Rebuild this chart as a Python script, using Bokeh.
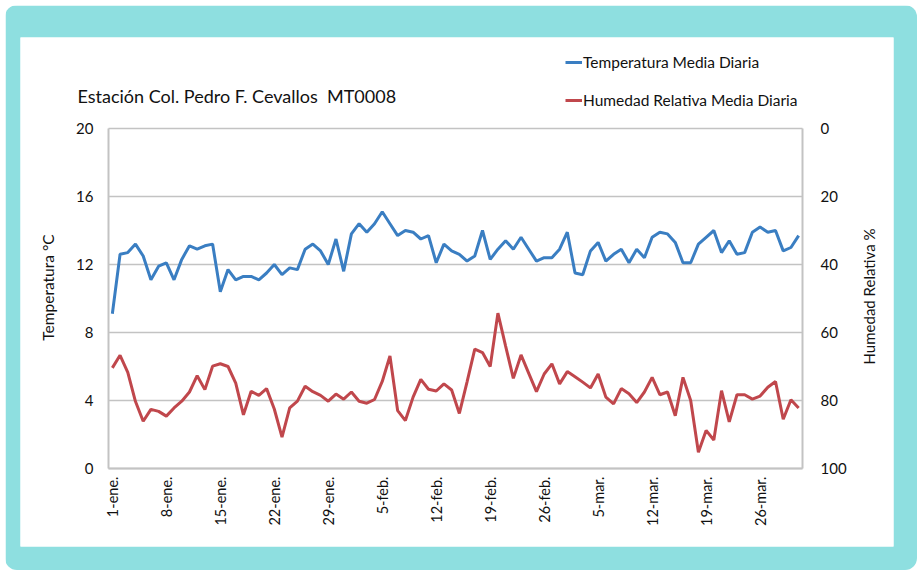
import math
from bokeh.plotting import figure
from bokeh.models import (Range1d, LinearAxis, FixedTicker, Legend, LegendItem, Label)
from bokeh.embed import file_html
from bokeh.resources import INLINE

# ---------------- data ----------------
temperatura = [
    9.1, 12.6, 12.7, 13.2, 12.5, 11.1, 11.9, 12.1, 11.1, 12.3,
    13.1, 12.9, 13.1, 13.2, 10.4, 11.7, 11.1, 11.3, 11.3, 11.1,
    11.5, 12.0, 11.4, 11.8, 11.7, 12.9, 13.2, 12.8, 12.0, 13.5,
    11.6, 13.8, 14.4, 13.9, 14.4, 15.1, 14.4, 13.7, 14.0, 13.9,
    13.5, 13.7, 12.1, 13.2, 12.8, 12.6, 12.2, 12.5, 14.0, 12.3,
    12.9, 13.4, 12.9, 13.6, 12.9, 12.2, 12.4, 12.4, 12.9, 13.9,
    11.5, 11.4, 12.8, 13.3, 12.2, 12.6, 12.9, 12.1, 12.9, 12.4,
    13.6, 13.9, 13.8, 13.3, 12.1, 12.1, 13.2, 13.6, 14.0, 12.7,
    13.4, 12.6, 12.7, 13.9, 14.2, 13.9, 14.0, 12.8, 13.0, 13.7,
]
humedad = [
    70.4, 66.7, 71.7, 80.3, 86.1, 82.6, 83.2, 84.6, 82.2, 80.2,
    77.5, 72.7, 76.8, 69.9, 69.2, 70.0, 74.9, 84.2, 77.3, 78.5,
    76.5, 82.5, 90.8, 82.2, 80.2, 75.8, 77.4, 78.5, 80.2, 78.1,
    79.6, 77.5, 80.2, 80.8, 79.7, 74.4, 66.9, 83.0, 85.9, 79.0,
    73.8, 76.7, 77.2, 75.1, 76.9, 83.8, 74.5, 64.9, 65.9, 70.0,
    54.3, 64.0, 73.5, 66.6, 72.0, 77.4, 72.2, 69.2, 75.1, 71.5,
    73.0, 74.6, 76.3, 72.2, 79.0, 81.0, 76.5, 78.0, 80.6, 77.5,
    73.2, 78.3, 77.5, 84.5, 73.2, 80.0, 95.2, 88.8, 91.6, 77.1,
    86.3, 78.3, 78.3, 79.6, 78.7, 76.1, 74.4, 85.5, 79.8, 82.2,
]
dias = list(range(len(temperatura)))
tick_dias = [0, 7, 14, 21, 28, 35, 42, 49, 56, 63, 70, 77, 84]
tick_fechas = ["1-ene.", "8-ene.", "15-ene.", "22-ene.", "29-ene.", "5-feb.",
               "12-feb.", "19-feb.", "26-feb.", "5-mar.", "12-mar.", "19-mar.",
               "26-mar."]
temp_ticks = [0, 4, 8, 12, 16, 20]
hum_ticks = [0, 20, 40, 60, 80, 100]

titulo = "Estación Col. Pedro F. Cevallos \u00a0MT0008"
serie_t = "Temperatura Media Diaria"
serie_h = "Humedad Relativa Media Diaria"
eje_izq = "Temperatura °C"
eje_der = "Humedad Relativa %"

# ---------------- geometry (page pixels) ----------------
CANVAS_X, CANVAS_Y = 5, 5          # figure margin
CW, CH = 912, 565                  # teal card
PANEL = (20, 37, 893, 546)         # white panel: left, top, right, bottom
AREA = (108, 128, 802, 468)        # plot area: left, top, right, bottom

X0, X1 = -0.5, len(dias) - 0.5
T0, T1 = temp_ticks[0], temp_ticks[-1]
H0, H1 = hum_ticks[-1], hum_ticks[0]
px_per_x = (AREA[2] - AREA[0]) / (X1 - X0)
px_per_t = (AREA[3] - AREA[1]) / (T1 - T0)

def dx(px):
    return X0 + (px - AREA[0]) / px_per_x

def dy(py):
    return T0 + (AREA[3] - py) / px_per_t

def t2h(t):
    return H0 + (t - T0) * (H1 - H0) / (T1 - T0)

FONT = "Lato"
TEAL = "#8EDFE0"
BLUE = "#3A7EC2"
RED = "#C0474C"
GRID = "#C3C3C3"
TXT = "#111111"

p = figure(width=CW, height=CH, output_backend="svg", toolbar_location=None,
           x_range=Range1d(dx(PANEL[0]), dx(PANEL[2])),
           y_range=Range1d(dy(PANEL[3]), dy(PANEL[1])),
           x_axis_type=None, y_axis_type=None,
           min_border_left=PANEL[0] - CANVAS_X,
           min_border_right=CANVAS_X + CW - PANEL[2],
           min_border_top=PANEL[1] - CANVAS_Y,
           min_border_bottom=CANVAS_Y + CH - PANEL[3])
p.margin = (CANVAS_Y, 5, 4, CANVAS_X)
p.styles = {"border-radius": "12px", "overflow": "hidden"}
p.border_fill_color = TEAL
p.background_fill_color = "white"
p.outline_line_color = None
p.extra_y_ranges = {"hum": Range1d(t2h(dy(PANEL[3])), t2h(dy(PANEL[1])))}

# horizontal grid lines across the plot area
p.segment(x0=[X0] * len(temp_ticks), x1=[X1] * len(temp_ticks),
          y0=temp_ticks, y1=temp_ticks, line_color=GRID, line_width=1.5,
          level="underlay")

def style_axis(ax, size="15px", standoff=14):
    ax.major_tick_out = 0
    ax.major_tick_in = 0
    ax.minor_tick_out = 0
    ax.minor_tick_in = 0
    ax.axis_line_color = GRID
    ax.axis_line_width = 2
    ax.major_label_standoff = standoff
    ax.major_label_text_font = FONT
    ax.major_label_text_font_size = size
    ax.major_label_text_color = TXT

xa = LinearAxis(ticker=FixedTicker(ticks=tick_dias), fixed_location=T0,
                bounds=(X0, X1))
xa.major_label_overrides = {d: f for d, f in zip(tick_dias, tick_fechas)}
xa.major_label_orientation = math.pi / 2
style_axis(xa, size="14.5px", standoff=8)
p.add_layout(xa, "below")

ya = LinearAxis(ticker=FixedTicker(ticks=temp_ticks), fixed_location=X0,
                bounds=(T0, T1))
style_axis(ya, standoff=15)
p.add_layout(ya, "left")

ra = LinearAxis(y_range_name="hum", ticker=FixedTicker(ticks=hum_ticks),
                fixed_location=X1, bounds=(H1, H0))
style_axis(ra, standoff=18)
p.add_layout(ra, "right")

# lines
r_t = p.line(dias, temperatura, line_color=BLUE, line_width=3)
r_h = p.line(dias, humedad, y_range_name="hum", line_color=RED, line_width=3)

# legend (location = bottom-left corner, measured from the frame's bottom-left)
legend = Legend(items=[LegendItem(label=serie_t, renderers=[r_t]),
                       LegendItem(label=serie_h, renderers=[r_h])],
                location=(565 - PANEL[0], PANEL[3] - 110),
                orientation="vertical", spacing=18, glyph_width=17,
                glyph_height=20, label_height=20, label_standoff=1,
                padding=0, margin=0, border_line_color=None,
                background_fill_alpha=0, label_text_font=FONT,
                label_text_font_size="15.5px", label_text_color=TXT)
p.add_layout(legend)

# title and axis titles
p.add_layout(Label(x=dx(77), y=dy(95), text=titulo, text_font=FONT,
                   text_font_size="18px", text_color=TXT, text_align="left",
                   text_baseline="middle"))
p.add_layout(Label(x=dx(47), y=dy(287), text=eje_izq, angle=math.pi / 2,
                   text_font=FONT, text_font_size="15.5px", text_color=TXT,
                   text_align="center", text_baseline="middle"))
p.add_layout(Label(x=dx(868), y=dy(296), text=eje_der, angle=math.pi / 2,
                   text_font=FONT, text_font_size="15px", text_color=TXT,
                   text_align="center", text_baseline="middle"))

open("out.html", "w").write(file_html(p, INLINE))
